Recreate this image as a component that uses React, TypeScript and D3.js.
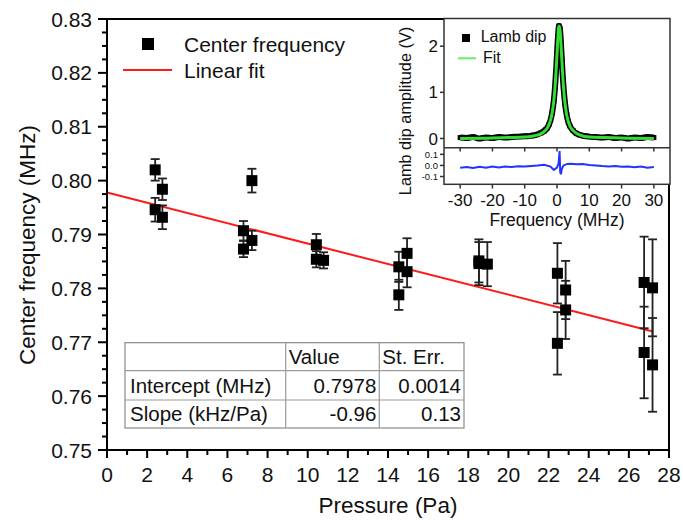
import React from "react";
import * as d3 from "d3";

// main panel: center frequency vs pressure
const pressure = [2.4, 2.76, 2.4, 2.76, 7.22, 6.8, 6.8, 7.22, 10.43, 10.43, 10.79, 14.54, 14.95, 14.95, 14.54, 18.53, 18.53, 18.95, 22.44, 22.85, 22.85, 22.44, 26.76, 27.18, 26.76, 27.18];
const frequency = [0.802, 0.7984, 0.7946, 0.7932, 0.8, 0.7907, 0.7873, 0.7889, 0.7881, 0.7854, 0.7852, 0.784, 0.7865, 0.7831, 0.7788, 0.7851, 0.7846, 0.7845, 0.7828, 0.7797, 0.776, 0.7698, 0.7811, 0.7801, 0.7681, 0.7658];
const freqError = [0.002, 0.002, 0.0022, 0.0022, 0.0022, 0.0018, 0.0015, 0.0018, 0.002, 0.0015, 0.0015, 0.0028, 0.0028, 0.0029, 0.0028, 0.004, 0.004, 0.0041, 0.0056, 0.0054, 0.0054, 0.0058, 0.0085, 0.009, 0.0085, 0.0087];

const fitPressure = [0, 27.2];
const fitFrequency = [0.7978, 0.772];

const xTicks = [0, 2, 4, 6, 8, 10, 12, 14, 16, 18, 20, 22, 24, 26, 28];
const yTicks = [0.75, 0.76, 0.77, 0.78, 0.79, 0.8, 0.81, 0.82, 0.83];

const tableHead = ["", "Value", "St. Err."];
const tableRows = [
  ["Intercept (MHz)", "0.7978", "0.0014"],
  ["Slope (kHz/Pa)", "-0.96", "0.13"],
];

// inset: Lamb dip
const dipFreq = [-30, -28, -26, -24, -22, -20, -18, -16, -14, -12, -10, -9, -8, -7, -6, -5, -4, -3.5, -3, -2.5, -2, -1.5, -1, -0.5, 0, 0.3, 0.6, 0.9, 1.2, 1.5, 2, 2.5, 3, 3.5, 4, 5, 6, 7, 8, 9, 10, 12, 14, 16, 18, 20, 22, 24, 26, 28, 30];
const dipAmp = [0.02, 0.01, 0.03, 0.0, 0.02, 0.01, 0.03, 0.02, 0.03, 0.04, 0.05, 0.05, 0.06, 0.07, 0.09, 0.12, 0.16, 0.19, 0.23, 0.3, 0.4, 0.56, 0.81, 1.22, 1.83, 2.2, 2.44, 2.38, 2.09, 1.7, 1.13, 0.75, 0.51, 0.36, 0.27, 0.17, 0.11, 0.08, 0.06, 0.05, 0.04, 0.03, 0.02, 0.03, 0.01, 0.02, 0.0, 0.02, 0.01, 0.03, 0.02];
const fitFreq = [-30, -20, -15, -10, -7, -5, -4, -3, -2, -1.5, -1, -0.5, 0, 0.3, 0.6, 0.9, 1.2, 1.5, 2, 2.5, 3, 4, 5, 7, 10, 15, 20, 30];
const fitAmp = [0.0, 0.01, 0.02, 0.03, 0.06, 0.1, 0.15, 0.23, 0.4, 0.56, 0.81, 1.22, 1.83, 2.2, 2.44, 2.38, 2.09, 1.7, 1.13, 0.75, 0.51, 0.27, 0.17, 0.08, 0.03, 0.02, 0.01, 0.0];
const resFreq = [-30, -28, -26, -24, -22, -20, -18, -16, -14, -12, -10, -8, -6, -4, -2, -1, 0, 0.5, 0.8, 1, 1.2, 1.5, 2, 3, 4, 6, 8, 10, 12, 14, 16, 18, 20, 22, 24, 26, 28, 30];
const resAmp = [-0.02, -0.015, -0.022, -0.012, -0.02, -0.01, -0.018, -0.01, -0.015, -0.008, -0.01, -0.004, 0.0, 0.006, -0.01, -0.04, -0.02, 0.02, 0.13, -0.06, -0.08, -0.03, 0.0, 0.012, 0.016, 0.01, 0.012, 0.004, 0.0, -0.006, -0.01, -0.004, -0.012, -0.01, -0.016, -0.01, -0.02, -0.014];
const insetXTicks = [-30, -20, -10, 0, 10, 20, 30];
const insetTopTicks = [0, 1, 2];
const insetBotTicks = [0.1, 0.0, -0.1];

const FONT = "Liberation Sans, Arial, Helvetica, sans-serif";

export default function App() {
  const x = d3.scaleLinear().domain([0, 28]).range([107, 669]);
  const y = d3.scaleLinear().domain([0.75, 0.83]).range([450, 19]);
  const xMinor = d3.range(1, 28, 2);
  const yMinor = d3.range(0, 33).map((i) => 0.75 + i * 0.0025);

  const fitLine = d3.line<number>()
    .x((d, i) => x(fitPressure[i]))
    .y((d) => y(d));

  // inset scales
  const ix = d3.scaleLinear().domain([-35, 35]).range([444, 670]);
  const iyTop = d3.scaleLinear().domain([-0.2, 2.6]).range([147.7, 18.5]);
  const iyBot = d3.scaleLinear().domain([-0.17, 0.16]).range([184.3, 147.7]);
  const dipLine = d3.line<number>().x((d, i) => ix(dipFreq[i])).y((d) => iyTop(d)).curve(d3.curveMonotoneX);
  const fitCurve = d3.line<number>().x((d, i) => ix(fitFreq[i])).y((d) => iyTop(d)).curve(d3.curveMonotoneX);
  const resLine = d3.line<number>().x((d, i) => ix(resFreq[i])).y((d) => iyBot(d));

  // table columns
  const colX = [125, 285.7, 379.3, 464];
  const rowY = [342.7, 370.7, 400, 428];

  const sq = 11;

  return (
    <svg width={683} height={520} style={{ position: "absolute", left: 0, top: 0, background: "#fff" }} fontFamily={FONT}>
      <rect x={0} y={0} width={683} height={520} fill="#fff" />

      {/* fit line */}
      <path d={fitLine(fitFrequency) || ""} stroke="#ff1a1a" strokeWidth={2} fill="none" />

      {/* error bars + squares */}
      {pressure.map((p, i) => {
        const cx = x(p);
        const y1 = y(frequency[i] + freqError[i]);
        const y2 = y(frequency[i] - freqError[i]);
        return (
          <g key={i} stroke="#222" strokeWidth={1.8}>
            <line x1={cx} x2={cx} y1={y1} y2={y2} />
            <line x1={cx - 4.5} x2={cx + 4.5} y1={y1} y2={y1} />
            <line x1={cx - 4.5} x2={cx + 4.5} y1={y2} y2={y2} />
          </g>
        );
      })}
      {pressure.map((p, i) => (
        <rect key={"s" + i} x={x(p) - sq / 2} y={y(frequency[i]) - sq / 2} width={sq} height={sq} fill="#000" />
      ))}

      {/* table */}
      <g>
        <rect x={colX[0]} y={rowY[0]} width={colX[3] - colX[0]} height={rowY[3] - rowY[0]} fill="#fff" stroke="#8a8a8a" strokeWidth={1.2} />
        {rowY.slice(1, 3).map((ry, i) => (
          <line key={i} x1={colX[0]} x2={colX[3]} y1={ry} y2={ry} stroke="#9a9a9a" strokeWidth={1.2} />
        ))}
        {colX.slice(1, 3).map((cx, i) => (
          <line key={i} x1={cx} x2={cx} y1={rowY[0]} y2={rowY[3]} stroke="#9a9a9a" strokeWidth={1.2} />
        ))}
        {tableHead.map((t, j) => (
          <text key={j} x={colX[j] + 3} y={rowY[1] - 7} fontSize={20.5} fill="#111">{t}</text>
        ))}
        {tableRows.map((row, r) =>
          row.map((t, j) => (
            <text
              key={r + "-" + j}
              x={j === 0 ? colX[0] + 5 : colX[j + 1] - 3}
              y={rowY[r + 2] - 7.5}
              textAnchor={j === 0 ? "start" : "end"}
              fontSize={20.5}
              fill="#111"
            >
              {t}
            </text>
          ))
        )}
      </g>

      {/* axes */}
      <g stroke="#000" strokeWidth={2}>
        <line x1={107} x2={669} y1={450} y2={450} />
        <line x1={107} x2={107} y1={19} y2={450} />
        <line x1={107} x2={669} y1={19} y2={19} />
        <line x1={669} x2={669} y1={19} y2={450} />
        {xTicks.map((t) => (
          <line key={"xt" + t} x1={x(t)} x2={x(t)} y1={450} y2={458} />
        ))}
        {xMinor.map((t) => (
          <line key={"xm" + t} x1={x(t)} x2={x(t)} y1={450} y2={455} />
        ))}
        {yMinor.map((t, i) => (
          <line key={"ym" + i} x1={i % 4 === 0 ? 98 : 102} x2={107} y1={y(t)} y2={y(t)} />
        ))}
      </g>
      {xTicks.map((t) => (
        <text key={"xl" + t} x={x(t)} y={482} textAnchor="middle" fontSize={21} fill="#111">{t}</text>
      ))}
      {yTicks.map((t) => (
        <text key={"yl" + t} x={92} y={y(t)} dy="0.36em" textAnchor="end" fontSize={21} fill="#111">{t.toFixed(2)}</text>
      ))}
      <text x={388} y={513} textAnchor="middle" fontSize={22.5} fill="#111">Pressure (Pa)</text>
      <text transform="translate(35,245) rotate(-90)" textAnchor="middle" fontSize={22.5} fill="#111">Center frequency (MHz)</text>

      {/* legend */}
      <rect x={148 - 6} y={44 - 6} width={12} height={12} fill="#000" />
      <text x={184} y={51.5} fontSize={21} fill="#111">Center frequency</text>
      <line x1={123} x2={172} y1={70} y2={70} stroke="#ff1a1a" strokeWidth={2} />
      <text x={184} y={77.5} fontSize={21} fill="#111">Linear fit</text>

      {/* inset */}
      <g>
        <rect x={444} y={18.5} width={226} height={165.8} fill="#fff" />
        <path d={dipLine(dipAmp) || ""} stroke="#000" strokeWidth={6} fill="none" strokeLinejoin="miter" />
        {dipFreq.map((f, i) => (
          <rect key={"d" + i} x={ix(f) - 2.5} y={iyTop(dipAmp[i]) - 2.5} width={5} height={5} fill="#000" />
        ))}
        <path d={fitCurve(fitAmp) || ""} stroke="#33dd33" strokeWidth={3} fill="none" />
        <path d={resLine(resAmp) || ""} stroke="#2233ff" strokeWidth={2} fill="none" />

        <g stroke="#333" strokeWidth={1.5} fill="none">
          <rect x={444} y={18.5} width={226} height={165.8} />
          <line x1={444} x2={670} y1={147.7} y2={147.7} />
          {insetXTicks.map((t) => (
            <line key={"ixt" + t} x1={ix(t)} x2={ix(t)} y1={184.3} y2={188.5} />
          ))}
          {insetXTicks.map((t) => (
            <line key={"ixt2" + t} x1={ix(t)} x2={ix(t)} y1={147.7} y2={151.5} />
          ))}
          {insetTopTicks.map((t) => (
            <line key={"iyt" + t} x1={440} x2={444} y1={iyTop(t)} y2={iyTop(t)} />
          ))}
          {insetBotTicks.map((t) => (
            <line key={"iyb" + t} x1={440} x2={444} y1={iyBot(t)} y2={iyBot(t)} />
          ))}
        </g>
        {insetXTicks.map((t) => (
          <text key={"ixl" + t} x={ix(t)} y={206} textAnchor="middle" fontSize={17} fill="#111">{t}</text>
        ))}
        {insetTopTicks.map((t) => (
          <text key={"iyl" + t} x={438} y={iyTop(t)} dy="0.36em" textAnchor="end" fontSize={17} fill="#111">{t}</text>
        ))}
        {insetBotTicks.map((t) => (
          <text key={"ibl" + t} x={438} y={iyBot(t)} dy="0.36em" textAnchor="end" fontSize={9.5} fill="#111">{t.toFixed(1)}</text>
        ))}
        <text x={ix(0)} y={226} textAnchor="middle" fontSize={17.5} fill="#111">Frequency (MHz)</text>
        <text transform="translate(411,111) rotate(-90)" textAnchor="middle" fontSize={16.3} fill="#111">Lamb dip amplitude (V)</text>

        {/* inset legend */}
        <rect x={462} y={34} width={8} height={8} fill="#000" />
        <text x={480.7} y={42} fontSize={16} fill="#111">Lamb dip</text>
        <line x1={458} x2={476} y1={58.3} y2={58.3} stroke="#66ee66" strokeWidth={2} />
        <text x={483} y={62.5} fontSize={16} fill="#111">Fit</text>
      </g>
    </svg>
  );
}
